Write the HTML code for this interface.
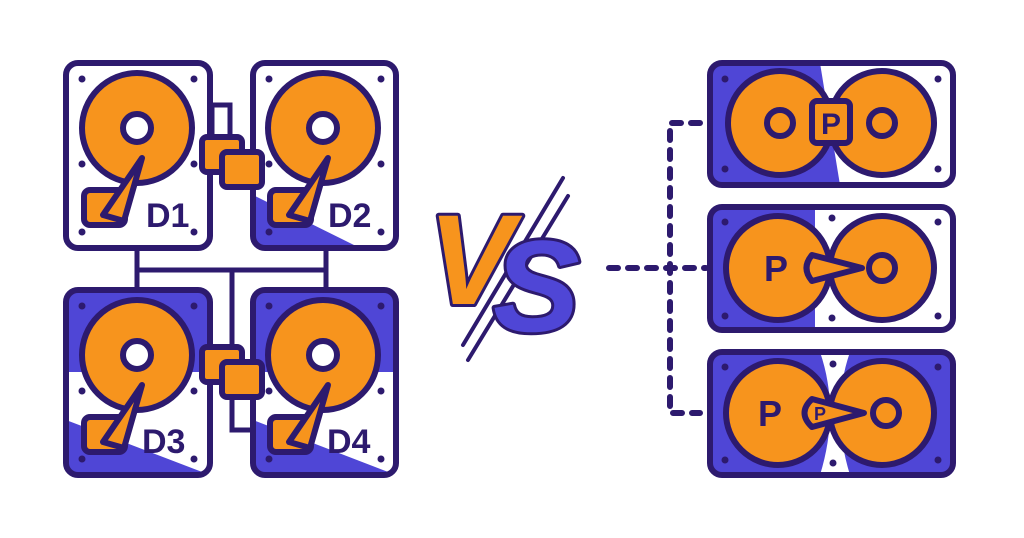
<!DOCTYPE html>
<html><head><meta charset="utf-8"><style>html,body{margin:0;padding:0;background:#fff;}svg{display:block}</style></head>
<body>
<svg width="1024" height="538" viewBox="0 0 1024 538" xmlns="http://www.w3.org/2000/svg">
<defs>
<g id="plat">
  <circle r="55" fill="#f7941d" stroke="#2d1a6e" stroke-width="6"/>
  <circle r="14" fill="#fff" stroke="#2d1a6e" stroke-width="6"/>
  <rect x="-53" y="62" width="41" height="35" rx="6" fill="#f7941d" stroke="#2d1a6e" stroke-width="6"/>
  <polygon points="-34,87 -13,93 5,30" fill="#f7941d" stroke="#2d1a6e" stroke-width="6" stroke-linejoin="round"/>
</g>
<g id="screws" fill="#2d1a6e">
  <circle cx="16" cy="16" r="3.5"/><circle cx="128" cy="16" r="3.5"/>
  <circle cx="16" cy="101" r="3.5"/><circle cx="128" cy="101" r="3.5"/>
  <circle cx="16" cy="169" r="3.5"/><circle cx="128" cy="169" r="3.5"/>
</g>
</defs>
<rect width="1024" height="538" fill="#fff"/>

<g fill="none" stroke="#2d1a6e" stroke-width="5">
  <path d="M137 248 V270 H326 V248"/>
  <path d="M137 270 V290 M326 270 V290"/>
  <path d="M232 270 V430 H253"/>
  <path d="M212 137 V105 H230 V152"/>
</g>

<!-- D1 -->
<rect x="66" y="63" width="144" height="185" rx="12" fill="#fff" stroke="#2d1a6e" stroke-width="6"/>
<use href="#screws" x="66" y="63"/>
<use href="#plat" x="137" y="128"/>
<text x="146" y="227" font-family="Liberation Sans, sans-serif" font-weight="bold" font-size="34" fill="#2d1a6e">D1</text>

<!-- D2 -->
<clipPath id="c2"><rect x="253" y="63" width="143" height="185" rx="12"/></clipPath>
<rect x="253" y="63" width="143" height="185" rx="12" fill="#fff"/>
<polygon clip-path="url(#c2)" points="253,195 360,248 253,248" fill="#4f46d6"/>
<rect x="253" y="63" width="143" height="185" rx="12" fill="none" stroke="#2d1a6e" stroke-width="6"/>
<use href="#screws" x="253" y="63"/>
<use href="#plat" x="323" y="128"/>
<text x="328" y="227" font-family="Liberation Sans, sans-serif" font-weight="bold" font-size="34" fill="#2d1a6e">D2</text>

<!-- D3 -->
<clipPath id="c3"><rect x="66" y="290" width="144" height="185" rx="12"/></clipPath>
<g clip-path="url(#c3)">
<rect x="66" y="290" width="144" height="185" fill="#fff"/>
<rect x="66" y="290" width="144" height="82" fill="#4f46d6"/>
<polygon points="66,420 210,475 66,475" fill="#4f46d6"/>
</g>
<rect x="66" y="290" width="144" height="185" rx="12" fill="none" stroke="#2d1a6e" stroke-width="6"/>
<use href="#screws" x="66" y="290"/>
<use href="#plat" x="137" y="355"/>
<text x="142" y="453" font-family="Liberation Sans, sans-serif" font-weight="bold" font-size="34" fill="#2d1a6e">D3</text>

<!-- D4 -->
<clipPath id="c4"><rect x="253" y="290" width="143" height="185" rx="12"/></clipPath>
<g clip-path="url(#c4)">
<rect x="253" y="290" width="143" height="185" fill="#fff"/>
<rect x="253" y="290" width="143" height="82" fill="#4f46d6"/>
<polygon points="253,420 396,475 253,475" fill="#4f46d6"/>
</g>
<rect x="253" y="290" width="143" height="185" rx="12" fill="none" stroke="#2d1a6e" stroke-width="6"/>
<use href="#screws" x="253" y="290"/>
<use href="#plat" x="323" y="355"/>
<text x="327" y="453" font-family="Liberation Sans, sans-serif" font-weight="bold" font-size="34" fill="#2d1a6e">D4</text>

<g fill="#f7941d" stroke="#2d1a6e" stroke-width="6">
  <rect x="202" y="137" width="40" height="35" rx="5"/>
  <rect x="222" y="152" width="40" height="35" rx="5"/>
  <rect x="202" y="347" width="40" height="35" rx="5"/>
  <rect x="222" y="362" width="40" height="35" rx="5"/>
</g>

<!-- VS -->
<g stroke="#2d1a6e" stroke-width="4" stroke-linecap="round">
  <line x1="563" y1="178" x2="463" y2="345"/>
  <line x1="568" y1="196" x2="468" y2="360"/>
</g>
<text x="428" y="304" font-family="Liberation Sans, sans-serif" font-weight="bold" font-style="italic" font-size="128" fill="#f7941d" stroke="#2d1a6e" stroke-width="6" paint-order="stroke" stroke-linejoin="round">V</text>
<text x="493" y="331" font-family="Liberation Sans, sans-serif" font-weight="bold" font-style="italic" font-size="130" fill="#4f46d6" stroke="#2d1a6e" stroke-width="6" paint-order="stroke" stroke-linejoin="round">S</text>

<!-- dashed -->
<g fill="none" stroke="#2d1a6e" stroke-width="6" stroke-linecap="round" stroke-dasharray="9 10">
  <path d="M700 123 H670 V413 H700"/>
  <path d="M609 268 H706"/>
</g>

<g font-family="Liberation Sans, sans-serif" font-weight="bold" fill="#2d1a6e">
<clipPath id="r1"><rect x="710" y="63" width="243" height="122" rx="12"/></clipPath>
<rect x="710" y="63" width="243" height="122" rx="12" fill="#fff"/>
<polygon clip-path="url(#r1)" points="710,63 820,63 840,185 710,185" fill="#4f46d6"/>
<rect x="710" y="63" width="243" height="122" rx="12" fill="none" stroke="#2d1a6e" stroke-width="6"/>
<circle cx="725" cy="79" r="3.5"/><circle cx="938" cy="79" r="3.5"/><circle cx="725" cy="169" r="3.5"/><circle cx="938" cy="169" r="3.5"/>
<circle cx="780" cy="123" r="52" fill="#f7941d" stroke="#2d1a6e" stroke-width="6"/>
<circle cx="882" cy="123" r="52" fill="#f7941d" stroke="#2d1a6e" stroke-width="6"/>
<circle cx="780" cy="123" r="13" fill="#f7941d" stroke="#2d1a6e" stroke-width="6"/>
<circle cx="882" cy="123" r="13" fill="#f7941d" stroke="#2d1a6e" stroke-width="6"/>
<rect x="812" y="101" width="38" height="42" rx="5" fill="#f7941d" stroke="#2d1a6e" stroke-width="6"/>
<text x="831" y="134" font-size="30" text-anchor="middle">P</text>

<clipPath id="r2"><rect x="710" y="207" width="243" height="123" rx="12"/></clipPath>
<rect x="710" y="207" width="243" height="123" rx="12" fill="#fff"/>
<polygon clip-path="url(#r2)" points="710,207 815,207 815,330 710,330" fill="#4f46d6"/>
<rect x="710" y="207" width="243" height="123" rx="12" fill="none" stroke="#2d1a6e" stroke-width="6"/>
<circle cx="725" cy="222" r="3.5"/><circle cx="938" cy="222" r="3.5"/><circle cx="725" cy="316" r="3.5"/><circle cx="938" cy="316" r="3.5"/><circle cx="832" cy="218" r="3.5"/><circle cx="832" cy="318" r="3.5"/>
<circle cx="778" cy="268" r="52" fill="#f7941d" stroke="#2d1a6e" stroke-width="6"/>
<circle cx="882" cy="268" r="52" fill="#f7941d" stroke="#2d1a6e" stroke-width="6"/>
<circle cx="882" cy="268" r="13" fill="#f7941d" stroke="#2d1a6e" stroke-width="6"/>
<text x="776" y="281" font-size="36" text-anchor="middle">P</text>
<path d="M812 255 L862 268 L812 281 Q801 268 812 255 Z" fill="#f7941d" stroke="#2d1a6e" stroke-width="6" stroke-linejoin="round"/>

<clipPath id="r3"><rect x="710" y="352" width="243" height="123" rx="12"/></clipPath>
<rect x="710" y="352" width="243" height="123" rx="12" fill="#4f46d6"/>
<path clip-path="url(#r3)" d="M820 352 Q840 410 820 475 L850 475 Q830 410 850 352 Z" fill="#fff"/>
<rect x="710" y="352" width="243" height="123" rx="12" fill="none" stroke="#2d1a6e" stroke-width="6"/>
<circle cx="725" cy="367" r="3.5"/><circle cx="938" cy="367" r="3.5"/><circle cx="725" cy="460" r="3.5"/><circle cx="938" cy="460" r="3.5"/><circle cx="833" cy="364" r="3.5"/><circle cx="833" cy="463" r="3.5"/>
<circle cx="778" cy="413" r="52" fill="#f7941d" stroke="#2d1a6e" stroke-width="6"/>
<circle cx="882" cy="413" r="52" fill="#f7941d" stroke="#2d1a6e" stroke-width="6"/>
<circle cx="886" cy="413" r="13" fill="#f7941d" stroke="#2d1a6e" stroke-width="6"/>
<text x="770" y="426" font-size="36" text-anchor="middle">P</text>
<path d="M812 399 L864 413 L812 427 Q797 413 812 399 Z" fill="#f7941d" stroke="#2d1a6e" stroke-width="6" stroke-linejoin="round"/>
<text x="820" y="420" font-size="18" text-anchor="middle">P</text>
</g>
</svg>
</body></html>
